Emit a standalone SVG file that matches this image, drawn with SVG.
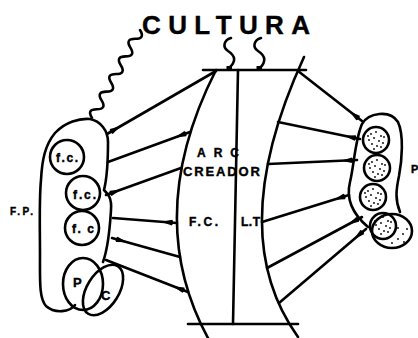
<svg xmlns="http://www.w3.org/2000/svg" xmlns:xlink="http://www.w3.org/1999/xlink" width="418" height="338" viewBox="0 0 418 338">
<style>
.s{fill:none;stroke:#000;stroke-width:2.6;stroke-linecap:round;stroke-linejoin:round}
.c{fill:none;stroke:#000;stroke-width:2.6}
.t{font-family:"Liberation Sans",Arial,sans-serif;font-weight:bold;fill:#000;stroke:#000;stroke-width:0.4}
.d{fill:#000}
</style>
<defs>
<marker id="ah" markerUnits="userSpaceOnUse" markerWidth="18" markerHeight="10" refX="16" refY="5" orient="auto">
<path d="M0,5 L11,2.2 Q13.5,5 11,7.8 Z" fill="#000"/>
</marker>
<g id="dots">
<circle class="d" cx="-5" cy="-6" r="0.9"/><circle class="d" cx="0" cy="-8" r="0.9"/><circle class="d" cx="5" cy="-4" r="0.9"/>
<circle class="d" cx="-7" cy="0" r="0.9"/><circle class="d" cx="-2" cy="-2" r="0.9"/><circle class="d" cx="3" cy="1" r="0.9"/>
<circle class="d" cx="7" cy="3" r="0.9"/><circle class="d" cx="-4" cy="4" r="0.9"/><circle class="d" cx="1" cy="6" r="0.9"/>
<circle class="d" cx="5" cy="7" r="0.9"/><circle class="d" cx="8" cy="-3" r="0.9"/><circle class="d" cx="-8" cy="-4" r="0.9"/>
<circle class="d" cx="-2" cy="9" r="0.9"/>
</g>
</defs>

<g id="cultura">
<text class="t" x="142" y="34" font-size="26" textLength="168" lengthAdjust="spacing">CULTURA</text>
<path class="s" d="M140,30 Q145.5,38.8 135.2,38.8 T130.4,47.6 T125.6,56.4 T120.8,65.2 T116,74 T111.2,82.8 T106.4,91.6 T101.6,100.4 T96.8,109.2 T92,118"/>
<path class="s" d="M231,38 C224,40 222,47 228,51 C236,56 236,62 229,68"/>
<path class="s" d="M261,38 C254,40 252,47 258,51 C266,56 266,62 260,68"/>
<rect x="226.5" y="66" width="5.5" height="5" fill="#000"/>
<rect x="256.5" y="66" width="5.5" height="5" fill="#000"/>
</g>

<g id="arco-creador">
<line class="s" x1="203" y1="70" x2="306" y2="70"/>
<line class="s" x1="188" y1="324" x2="298" y2="324"/>
<line class="s" x1="238" y1="70" x2="233" y2="324"/>
<path class="s" d="M216,70 Q142,216 208,338"/>
<path class="s" d="M304,57 Q223,233 298,337"/>
<text class="t" x="197" y="157" font-size="12" textLength="42" lengthAdjust="spacing">ARC</text>
<text class="t" x="183" y="176" font-size="13" textLength="77" lengthAdjust="spacing">CREADOR</text>
<text class="t" x="189" y="226" font-size="12" textLength="29" lengthAdjust="spacing">F.C.</text>
<text class="t" x="241" y="226" font-size="12" textLength="19" lengthAdjust="spacing">L.T</text>
</g>

<g id="fp">
<path class="s" d="M75,305 C70,312 55,314 46,306 C39,298 40,280 40,255 C40,230 39,200 41,180 C42,160 45,145 55,133 C65,122 80,118 90,119 C100,121 108,130 108,142 C108,160 107,178 104,190 C108,194 112,198 111,210 C110,225 109,245 103,262"/>
<text class="t" x="10" y="215" font-size="10" textLength="23" lengthAdjust="spacing">F.P.</text>
</g>
<g id="fc1"><circle class="c" cx="67" cy="157" r="17"/><text class="t" x="56" y="162" font-size="12" textLength="22" lengthAdjust="spacing">f.c.</text></g>
<g id="fc2"><circle class="c" cx="83" cy="193" r="17"/><text class="t" x="73" y="199" font-size="12" textLength="23" lengthAdjust="spacing">f.c.</text></g>
<g id="fc3"><circle class="c" cx="82" cy="228" r="17"/><text class="t" x="72" y="233" font-size="12" textLength="22" lengthAdjust="spacing">f. c</text></g>
<g id="pc">
<ellipse class="c" cx="83" cy="284" rx="20" ry="26"/>
<ellipse class="c" cx="103" cy="290" rx="16" ry="28" transform="rotate(32 103 290)"/>
<text class="t" x="73" y="287" font-size="13">P</text>
<text class="t" x="101" y="300" font-size="13">C</text>
</g>

<g id="p-right">
<path class="s" d="M368,227 C355,216 345,202 350,182 C354,166 355,140 362,124 C368,113 390,109 398,122 C404,135 402,160 399,176 C396,190 395,200 400,212"/>
<circle class="c" cx="376" cy="140" r="13"/>
<circle class="c" cx="377" cy="168" r="13"/>
<circle class="c" cx="373" cy="197" r="13"/>
<circle class="c" cx="383" cy="226" r="13"/>
<ellipse class="c" cx="392" cy="231" rx="20" ry="17"/>
<use xlink:href="#dots" x="376" y="140"/>
<use xlink:href="#dots" x="377" y="168"/>
<use xlink:href="#dots" x="373" y="197"/>
<use xlink:href="#dots" x="383" y="225"/>
<circle class="d" cx="398" cy="228" r="0.9"/><circle class="d" cx="403" cy="234" r="0.9"/><circle class="d" cx="398" cy="239" r="0.9"/>
<circle class="d" cx="404" cy="242" r="0.9"/><circle class="d" cx="392" cy="243" r="0.9"/><circle class="d" cx="407" cy="229" r="0.9"/>
<text class="t" x="411" y="173" font-size="11">P</text>
</g>

<g id="connectors">
<path class="s" d="M216,71 L107,134" marker-end="url(#ah)"/>
<path class="s" d="M108,162 L190,132" marker-end="url(#ah)"/>
<path class="s" d="M181,168 L106,195" marker-end="url(#ah)"/>
<path class="s" d="M113,218 L177,223" marker-end="url(#ah)"/>
<path class="s" d="M180,257 L112,238" marker-end="url(#ah)"/>
<path class="s" d="M106,260 L188,292" marker-end="url(#ah)"/>
<path class="s" d="M298,71 L362,121" marker-end="url(#ah)"/>
<path class="s" d="M278,122 L360,139" marker-end="url(#ah)"/>
<path class="s" d="M268,164 L357,160" marker-end="url(#ah)"/>
<path class="s" d="M262,222 L349,195" marker-end="url(#ah)"/>
<path class="s" d="M267,268 L362,217" marker-end="url(#ah)"/>
<path class="s" d="M279,303 L366,229" marker-end="url(#ah)"/>
</g>
</svg>
